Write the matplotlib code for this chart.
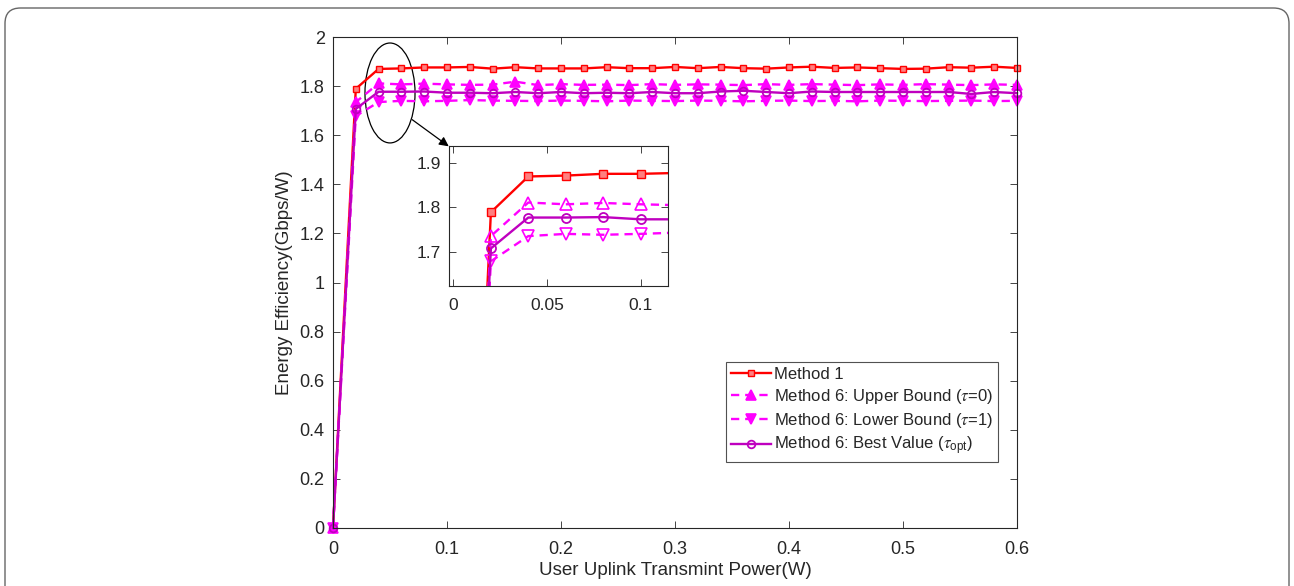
import numpy as np
import matplotlib
matplotlib.use("Agg")
import matplotlib.pyplot as plt
from matplotlib.patches import Ellipse, FancyBboxPatch

plt.rcParams["font.family"] = ["Liberation Sans", "DejaVu Sans"]
plt.rcParams["mathtext.fontset"] = "custom"
plt.rcParams["mathtext.rm"] = "Liberation Sans"
plt.rcParams["mathtext.it"] = "STIXGeneral:italic"

# transmit power (W)
power = np.round(np.arange(0, 0.61, 0.02), 2)

method1 = [0, 1.789, 1.870, 1.872, 1.876, 1.876, 1.878, 1.871, 1.877, 1.872,
           1.872, 1.872, 1.877, 1.873, 1.873, 1.878, 1.873, 1.878, 1.873, 1.871,
           1.876, 1.879, 1.874, 1.876, 1.873, 1.870, 1.871, 1.877, 1.875, 1.879,
           1.874]
upper = [0, 1.735, 1.811, 1.807, 1.810, 1.807, 1.805, 1.806, 1.818, 1.804,
         1.808, 1.805, 1.806, 1.804, 1.808, 1.805, 1.807, 1.806, 1.804, 1.808,
         1.805, 1.808, 1.806, 1.804, 1.807, 1.805, 1.808, 1.806, 1.804, 1.807,
         1.805]
lower = [0, 1.678, 1.735, 1.740, 1.738, 1.740, 1.743, 1.741, 1.740, 1.739,
         1.741, 1.740, 1.738, 1.741, 1.740, 1.739, 1.741, 1.740, 1.738, 1.740,
         1.741, 1.739, 1.740, 1.738, 1.741, 1.740, 1.739, 1.740, 1.741, 1.739,
         1.740]
best = [0, 1.707, 1.777, 1.777, 1.778, 1.773, 1.773, 1.771, 1.776, 1.771,
        1.776, 1.771, 1.773, 1.771, 1.776, 1.771, 1.771, 1.778, 1.781, 1.776,
        1.771, 1.778, 1.776, 1.776, 1.776, 1.776, 1.776, 1.776, 1.768, 1.776,
        1.771]

RED = "#ff0000"
MAG = "#ff00ff"
PUR = "#bf00bf"
TXT = "#262626"

fig = plt.figure(figsize=(12.94, 5.86), dpi=100)

frame = FancyBboxPatch((5 / 1294, -0.2), 1284 / 1294, 0.2 + (586 - 8) / 586,
                       boxstyle="round,pad=0,rounding_size=0.012",
                       transform=fig.transFigure, fill=False,
                       edgecolor="#666666", linewidth=1.0, mutation_aspect=2.2)
fig.patches.append(frame)

ax = fig.add_axes([333 / 1294, 58 / 586, 684 / 1294, 491 / 586])


def draw(a, ms, filled, clip=True):
    a.plot(power, method1, color=RED, lw=1.7, marker="s", ms=ms,
           mfc="#ff8080", mec=RED, mew=1.0, label="Method 1", clip_on=clip)
    a.plot(power, upper, color=MAG, lw=1.7, ls=(0, (3.5, 2.5)), marker="^", ms=ms + 2,
           mfc=MAG if filled else "none", mec=MAG, mew=1.2,
           label=r"Method 6: Upper Bound ($\tau$=0)", clip_on=clip)
    a.plot(power, lower, color=MAG, lw=1.7, ls=(0, (3.5, 2.5)), marker="v", ms=ms + 2,
           mfc=MAG if filled else "none", mec=MAG, mew=1.2,
           label=r"Method 6: Lower Bound ($\tau$=1)", clip_on=clip)
    a.plot(power, best, color=PUR, lw=1.7, marker="o", ms=ms + 0.5,
           mfc="none", mec=PUR, mew=1.3,
           label=r"Method 6: Best Value ($\tau_{\mathrm{opt}}$)", clip_on=clip)


def style(a, size):
    a.tick_params(direction="in", top=True, right=True, labelsize=size,
                  colors=TXT, length=5, width=0.6)
    for s in a.spines.values():
        s.set_color(TXT)
        s.set_linewidth(0.8)


draw(ax, 5, True, clip=False)
ax.set_xlim(0, 0.6)
ax.set_ylim(0, 2)
ax.set_xticks(np.arange(0, 0.61, 0.1))
ax.set_xticklabels(["0", "0.1", "0.2", "0.3", "0.4", "0.5", "0.6"])
ax.set_yticks(np.arange(0, 2.01, 0.2))
ax.set_yticklabels(["0", "0.2", "0.4", "0.6", "0.8", "1", "1.2", "1.4", "1.6", "1.8", "2"])
style(ax, 13)
ax.tick_params(axis="x", pad=9)
ax.tick_params(axis="y", pad=6)
ax.set_xlabel("User Uplink Transmint Power(W)", fontsize=13.5, color=TXT, labelpad=3)
ax.set_ylabel("Energy Efficiency(Gbps/W)", fontsize=13.5, color=TXT, labelpad=5)

leg = ax.legend(loc="upper right", bbox_to_anchor=(0.972, 0.338), fontsize=12,
                frameon=True, fancybox=False, edgecolor=TXT, handlelength=2.4,
                handletextpad=0.15, borderpad=0.3, labelspacing=0.3,
                borderaxespad=0)
leg.get_frame().set_linewidth(0.8)
for t in leg.get_texts():
    t.set_color(TXT)

ax.add_patch(Ellipse((0.050, 1.772), 0.0439, 0.407, fill=False,
                     edgecolor="black", lw=0.9))
ax.annotate("", xy=(0.1035, 1.548), xytext=(0.0675, 1.670),
            arrowprops=dict(arrowstyle="-|>", color="black", lw=0.9,
                            mutation_scale=14))

ins = fig.add_axes([449 / 1294, 300 / 586, 219 / 1294, 140 / 586])
draw(ins, 6, False)
ins.set_xlim(-0.0024, 0.1147)
ins.set_ylim(1.622, 1.939)
ins.set_xticks([0, 0.05, 0.1])
ins.set_xticklabels(["0", "0.05", "0.1"])
ins.set_yticks([1.7, 1.8, 1.9])
style(ins, 12.5)
ins.tick_params(axis="x", pad=9)
ins.tick_params(axis="y", pad=6)

fig.savefig("out.png", dpi=100)
